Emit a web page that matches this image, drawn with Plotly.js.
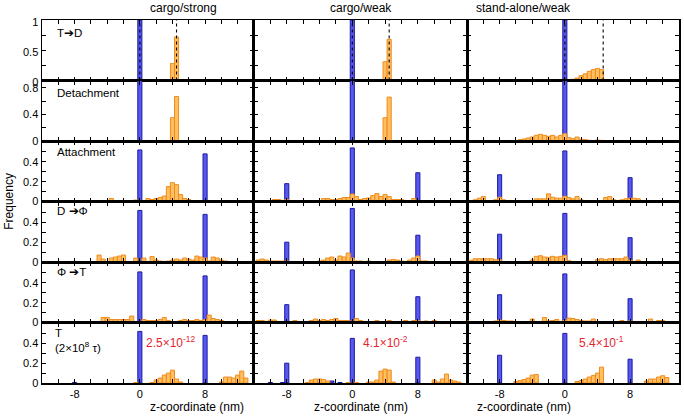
<!DOCTYPE html>
<html><head><meta charset="utf-8">
<script src="https://cdn.plot.ly/plotly-3.0.1.min.js"></script>
<style>html,body{margin:0;padding:0;background:#fff}#chart{width:684px;height:417px}</style>
</head><body><div id="chart"></div>
<script>
// ---------- labels ----------
const columnTitles = ['cargo/strong', 'cargo/weak', 'stand-alone/weak'];
const rowLabels = ['T\u2794D', 'Detachment', 'Attachment', 'D \u2794\u03A6', '\u03A6 \u2794T', 'T<br>(2\u00D710<sup>8</sup> \u03C4)'];
const xTickVals = [-12, -10, -8, -6, -4, -2, 0, 2, 4, 6, 8, 10, 12, 14];
const xTickText = ['', '', '-8', '', '', '', '0', '', '', '', '8', '', '', ''];
const rateLabels = ['2.5\u00D710<sup>-12</sup>', '4.1\u00D710<sup>-2</sup>', '5.4\u00D710<sup>-1</sup>'];
const rateX = [3.7, 4.1, 4.5];
const rateY = [0.41, 0.41, 0.41];
const tdMarkerX = [4.5, 4.5, 4.7];

// ---------- cargo/strong ----------
const cs_td_bx = [0], cs_td_by = [1];
const cs_td_ox = [4, 4.5], cs_td_oy = [0.28, 0.72];
const cs_det_bx = [0], cs_det_by = [1];
const cs_det_ox = [4, 4.5], cs_det_oy = [0.35, 0.67];
const cs_att_bx = [-8, 0, 8], cs_att_by = [0.006, 0.52, 0.48];
const cs_att_ox = [-9,-5.5,-3.5,-2.5,-1,-0.5,0.5,1,1.5,2,2.5,3,3.5,4,4.5,5,5.5,6,6.5,7,7.5,8.5,9,10];
const cs_att_oy = [0.005,0.005,0.03,0.005,0.01,0.015,0.01,0.03,0.02,0.03,0.04,0.055,0.15,0.19,0.17,0.07,0.03,0.02,0.01,0.01,0.01,0.01,0.01,0.005];
const cs_dphi_bx = [-8, 0, 8], cs_dphi_by = [0.006, 0.52, 0.48];
const cs_dphi_ox = [-10.5,-5,-4.5,-3.5,-3,-2.5,-2,-0.5,0.5,1.5,2,2.5,3.5,4,4.5,5,5.5,6,6.5,7,7.5,8,8.5,9,9.5,10,10.5];
const cs_dphi_oy = [0.005,0.07,0.03,0.04,0.05,0.06,0.07,0.04,0.04,0.055,0.02,0.01,0.01,0.02,0.03,0.02,0.04,0.03,0.02,0.06,0.05,0.04,0.01,0.05,0.04,0.02,0.01];
const cs_phit_bx = [-8, 0, 8], cs_phit_by = [0.006, 0.51, 0.47];
const cs_phit_ox = [-5,-4.5,-4,-3.5,-3,-2.5,-2,-1.5,-1,-0.5,0.5,1,1.5,2,2.5,3,3.5,4.5,5,5.5,6,6.5,7,7.5,8,8.5,9,9.5,10,10.5,11,11.5];
const cs_phit_oy = [0.01,0.05,0.05,0.03,0.03,0.03,0.03,0.03,0.065,0.01,0.03,0.02,0.02,0.02,0.03,0.05,0.02,0.01,0.02,0.03,0.02,0.02,0.03,0.02,0.03,0.075,0.04,0.03,0.02,0.01,0.005,0.005];
const cs_t_bx = [-8, 0, 8], cs_t_by = [0.006, 0.52, 0.48];
const cs_t_ox = [-0.5,1.5,2,2.5,3,3.5,4,4.5,5,10,10.5,11,11.5,12,12.5,13];
const cs_t_oy = [0.005,0.005,0.03,0.05,0.08,0.1,0.13,0.04,0.01,0.01,0.06,0.06,0.05,0.08,0.12,0.05];

// ---------- cargo/weak ----------
const cw_td_bx = [0], cw_td_by = [1];
const cw_td_ox = [4, 4.5], cw_td_oy = [0.31, 0.68];
const cw_det_bx = [0], cw_det_by = [1];
const cw_det_ox = [4, 4.5], cw_det_oy = [0.35, 0.66];
const cw_att_bx = [-8, -5.5, 0, 8], cw_att_by = [0.18, 0.01, 0.54, 0.29];
const cw_att_ox = [-11.5,-11,-10,-9.5,-9,-8,-7,-6.5,-5,-4,-3.5,-3,-2.5,-2,-1.5,-1,-0.5,0,0.5,1,1.5,2,2.5,3,3.5,4,4.5,5,5.5,6,6.5,7,7.5];
const cw_att_oy = [0.005,0.005,0.01,0.02,0.02,0.02,0.005,0.005,0.005,0.005,0.03,0.03,0.02,0.02,0.03,0.04,0.04,0.075,0.05,0.02,0.03,0.035,0.06,0.08,0.05,0.07,0.05,0.02,0.02,0.02,0.01,0.01,0.03];
const cw_dphi_bx = [-8, -5.5, 0, 8], cw_dphi_by = [0.2, 0.005, 0.54, 0.27];
const cw_dphi_ox = [-11.5,-11,-10.5,-10,-9.5,-9,-8.5,-8,-7,-6.5,-4,-3.5,-3,-2.5,-2,-1.5,-1,-0.5,0,0.5,1,2,3,4.5,5,5.5,6,6.5,7,7.5,8,8.5,9,9.5];
const cw_dphi_oy = [0.02,0.03,0.02,0.01,0.01,0.01,0.01,0.01,0.005,0.005,0.01,0.02,0.04,0.05,0.02,0.06,0.05,0.09,0.04,0.01,0.01,0.01,0.005,0.02,0.025,0.02,0.01,0.005,0.02,0.04,0.06,0.01,0.01,0.005];
const cw_phit_bx = [-8, 0, 8], cw_phit_by = [0.18, 0.53, 0.26];
const cw_phit_ox = [-11.5,-11,-10,-9.5,-9,-7,-5,-4.5,-4,-3.5,-3,-2.5,-2,-1.5,-1,-0.5,0.5,1,1.5,3,4.5,5,6.5,7.5,8,9,10,10.5];
const cw_phit_oy = [0.02,0.02,0.025,0.025,0.01,0.02,0.02,0.035,0.02,0.03,0.02,0.03,0.04,0.02,0.02,0.02,0.04,0.02,0.01,0.02,0.02,0.01,0.02,0.02,0.02,0.015,0.02,0.005];
const cw_t_bx = [-10, -8.5, -8, -2.5, -1.5, 0, 8], cw_t_by = [0.005, 0.005, 0.2, 0.02, 0.005, 0.45, 0.26];
const cw_t_ox = [-5.5,-5,-4.5,-4,-3.5,-3,-0.5,0.5,2,2.5,3,3.5,4,4.5,5,10,10.5,11,11.5,12,12.5,13];
const cw_t_oy = [0.005,0.03,0.04,0.04,0.035,0.02,0.005,0.005,0.01,0.01,0.03,0.12,0.14,0.13,0.01,0.03,0.01,0.04,0.09,0.03,0.02,0.01];

// ---------- stand-alone/weak ----------
const sw_td_bx = [0], sw_td_by = [1];
const sw_td_ox = [1,1.5,2,2.5,3,3.5,4,4.5,5], sw_td_oy = [0.02,0.04,0.08,0.11,0.15,0.18,0.2,0.18,0.01];
const sw_det_bx = [0], sw_det_by = [1];
const sw_det_ox = [-5.5,-5,-4.5,-4,-3.5,-3,-2.5,-2,-1.5,-1,-0.5,0,0.5,1,1.5,2,2.5,3,3.5,4,4.5];
const sw_det_oy = [0.02,0.03,0.045,0.06,0.085,0.1,0.085,0.07,0.085,0.06,0.085,0.11,0.05,0.035,0.06,0.025,0.02,0.01,0.005,0.015,0.01];
const sw_att_bx = [-8, 0, 8], sw_att_by = [0.27, 0.51, 0.24];
const sw_att_ox = [-11,-10.5,-10,-9.5,-8.5,-8,-7.5,-7,-6.5,-6,-5,-4.5,-4,-3.5,-3,-2.5,-2,-1.5,-1,-0.5,0,0.5,1,1.5,2,2.5,3,4,4.5,5,5.5,6,6.5,7,7.5,8,8.5,9,9.5,10.5,11.5];
const sw_att_oy = [0.017,0.033,0.05,0.01,0.017,0.043,0.017,0.01,0.01,0.005,0.005,0.005,0.01,0.027,0.027,0.027,0.077,0.043,0.033,0.033,0.053,0.04,0.027,0.05,0.017,0.01,0.01,0.01,0.01,0.04,0.05,0.017,0.01,0.017,0.027,0.033,0.033,0.027,0.01,0.005,0.005];
const sw_dphi_bx = [-8, 0, 8], sw_dphi_by = [0.28, 0.49, 0.245];
const sw_dphi_ox = [-12,-11.5,-11,-10.5,-10,-9.5,-9,-8.5,-8,-6.5,-5.5,-5,-4.5,-4,-3.5,-3,-2.5,-2,-1.5,-1,-0.5,0,0.5,1,2,3.5,4,4.5,5,5.5,6,6.5,7,7.5,8,8.5,9,10];
const sw_dphi_oy = [0.005,0.017,0.033,0.033,0.033,0.033,0.033,0.023,0.023,0.005,0.005,0.005,0.005,0.02,0.057,0.063,0.05,0.047,0.057,0.05,0.057,0.067,0.013,0.005,0.005,0.005,0.023,0.033,0.023,0.033,0.033,0.033,0.033,0.05,0.017,0.005,0.02,0.005];
const sw_phit_bx = [-8, 0, 8], sw_phit_by = [0.28, 0.49, 0.24];
const sw_phit_ox = [-12,-11.5,-11,-10.5,-8.5,-8,-7.5,-7,-6.5,-5.5,-5,-4.5,-4,-3.5,-3,-2.5,-2,-1.5,-1,-0.5,0,0.5,1,1.5,2,2.5,3,3.5,4,5,7,7.5,8,8.5,9,10.5,11,11.5,12];
const sw_phit_oy = [0.015,0.01,0.01,0.01,0.015,0.025,0.02,0.015,0.015,0.01,0.01,0.01,0.035,0.01,0.01,0.05,0.015,0.02,0.03,0.01,0.02,0.045,0.04,0.03,0.02,0.015,0.015,0.035,0.005,0.005,0.02,0.01,0.015,0.01,0.01,0.035,0.005,0.02,0.02];
const sw_t_bx = [-8, 0, 8], sw_t_by = [0.28, 0.5, 0.24];
const sw_t_ox = [-6,-5.5,-5,-4.5,-4,-3.5,1.5,2,2.5,3,3.5,4,4.5,10,10.5,11,11.5,12,12.5];
const sw_t_oy = [0.015,0.025,0.035,0.05,0.08,0.085,0.015,0.025,0.04,0.06,0.075,0.1,0.16,0.02,0.04,0.04,0.06,0.073,0.055];

// panels[row][col] = [blueX, blueY, orangeX, orangeY]
const panels = [
  [[cs_td_bx, cs_td_by, cs_td_ox, cs_td_oy], [cw_td_bx, cw_td_by, cw_td_ox, cw_td_oy], [sw_td_bx, sw_td_by, sw_td_ox, sw_td_oy]],
  [[cs_det_bx, cs_det_by, cs_det_ox, cs_det_oy], [cw_det_bx, cw_det_by, cw_det_ox, cw_det_oy], [sw_det_bx, sw_det_by, sw_det_ox, sw_det_oy]],
  [[cs_att_bx, cs_att_by, cs_att_ox, cs_att_oy], [cw_att_bx, cw_att_by, cw_att_ox, cw_att_oy], [sw_att_bx, sw_att_by, sw_att_ox, sw_att_oy]],
  [[cs_dphi_bx, cs_dphi_by, cs_dphi_ox, cs_dphi_oy], [cw_dphi_bx, cw_dphi_by, cw_dphi_ox, cw_dphi_oy], [sw_dphi_bx, sw_dphi_by, sw_dphi_ox, sw_dphi_oy]],
  [[cs_phit_bx, cs_phit_by, cs_phit_ox, cs_phit_oy], [cw_phit_bx, cw_phit_by, cw_phit_ox, cw_phit_oy], [sw_phit_bx, sw_phit_by, sw_phit_ox, sw_phit_oy]],
  [[cs_t_bx, cs_t_by, cs_t_ox, cs_t_oy], [cw_t_bx, cw_t_by, cw_t_ox, cw_t_oy], [sw_t_bx, sw_t_by, sw_t_ox, sw_t_oy]]
];

// y axis settings per row
const yRanges = [[0, 1], [0, 0.91], [0, 0.61], [0, 0.61], [0, 0.61], [0, 0.61]];
const yTickVals = [[0, 0.25, 0.5, 0.75, 1], [0, 0.2, 0.4, 0.6, 0.8], [0, 0.1, 0.2, 0.3, 0.4, 0.5, 0.6], [0, 0.1, 0.2, 0.3, 0.4, 0.5, 0.6], [0, 0.1, 0.2, 0.3, 0.4, 0.5, 0.6], [0, 0.1, 0.2, 0.3, 0.4, 0.5, 0.6]];
const yTickText = [['0', '', '0.5', '', '1'], ['0', '', '0.4', '', '0.8'], ['0', '', '0.2', '', '0.4', '', ''], ['0', '', '0.2', '', '0.4', '', ''], ['0', '', '0.2', '', '0.4', '', ''], ['0', '', '0.2', '', '0.4', '', '']];

const colDomains = [[0, 0.3328], [0.3328, 0.6672], [0.6672, 1]];
const FONT = 'Liberation Sans, Arial, sans-serif';
const BLUE_FILL = 'rgb(88,88,240)', BLUE_LINE = 'rgb(25,25,165)';
const OR_FILL = 'rgb(255,190,95)', OR_LINE = 'rgb(238,140,30)';

const traces = [];
const layout = {
  width: 684, height: 417,
  margin: {l: 42, r: 5, t: 20, b: 34, pad: 0},
  paper_bgcolor: '#fff', plot_bgcolor: '#fff',
  showlegend: false, barmode: 'overlay', bargap: 0,
  font: {family: FONT, size: 11, color: '#000'},
  annotations: [], shapes: []
};

for (let r = 0; r < 6; r++) {
  for (let c = 0; c < 3; c++) {
    const n = r * 3 + c + 1;
    const xa = 'x' + (n === 1 ? '' : n), ya = 'y' + (n === 1 ? '' : n);
    const [bx, by, ox, oy] = panels[r][c];
    traces.push({type: 'bar', x: bx, y: by, width: 0.5, xaxis: xa, yaxis: ya,
      marker: {color: BLUE_FILL, line: {color: BLUE_LINE, width: 1}}, hoverinfo: 'skip'});
    traces.push({type: 'bar', x: ox, y: oy, width: 0.5, xaxis: xa, yaxis: ya,
      marker: {color: OR_FILL, line: {color: OR_LINE, width: 1}}, hoverinfo: 'skip'});
    const yd = [1 - (r + 1) / 6, 1 - r / 6];
    layout['xaxis' + (n === 1 ? '' : n)] = {
      domain: colDomains[c], anchor: ya, range: [-12, 14],
      tickmode: 'array', tickvals: xTickVals, ticktext: xTickText,
      showticklabels: r === 5, ticks: 'inside', ticklen: 4, tickwidth: 1, tickcolor: '#000',
      showline: true, linecolor: '#000', linewidth: 1.5, mirror: 'ticks',
      showgrid: false, zeroline: false, fixedrange: true,
      tickfont: {family: FONT, size: 11, color: '#000'}
    };
    layout['yaxis' + (n === 1 ? '' : n)] = {
      domain: yd, anchor: xa, range: yRanges[r],
      tickmode: 'array', tickvals: yTickVals[r], ticktext: yTickText[r],
      showticklabels: c === 0, ticks: 'inside', ticklen: 4, tickwidth: 1, tickcolor: '#000',
      ticklabelshift: r === 0 ? 2 : 0,
      showline: true, linecolor: '#000', linewidth: 1.5, mirror: 'ticks',
      showgrid: false, zeroline: false, fixedrange: true,
      tickfont: {family: FONT, size: 11, color: '#000'}
    };
    if (r === 0) {
      [0, tdMarkerX[c]].forEach(xv => layout.shapes.push({
        type: 'line', xref: xa, yref: ya + ' domain', x0: xv, x1: xv, y0: 0, y1: 1,
        line: {color: '#000', width: 1.1, dash: 'dot'}
      }));
    }
    if (r === 5) {
      layout.annotations.push({xref: xa, yref: ya, x: rateX[c], y: rateY[c], text: rateLabels[c],
        showarrow: false, font: {family: FONT, size: 12, color: '#e3262e'}});
    }
    if (c === 0) {
      const yPos = [0.78, 0.8, 0.82, 0.84, 0.83, 0.96][r];
      layout.annotations.push({xref: xa + ' domain', yref: ya + ' domain', x: r === 5 ? 0.05 : 0.06, y: yPos,
        xanchor: 'left', yanchor: r === 5 ? 'top' : 'middle', align: 'left', text: rowLabels[r],
        showarrow: false, font: {family: FONT, size: 11.5, color: '#000'}});
    }
  }
}

columnTitles.forEach((t, c) => {
  const xc = (colDomains[c][0] + colDomains[c][1]) / 2;
  layout.annotations.push({xref: 'paper', yref: 'paper', x: xc, y: 1.033, yanchor: 'middle',
    text: t, showarrow: false, font: {family: FONT, size: 12, color: '#000'}});
  layout.annotations.push({xref: 'paper', yref: 'paper', x: xc, y: -0.066, yanchor: 'middle',
    text: 'z-coordinate (nm)', showarrow: false, font: {family: FONT, size: 12, color: '#000'}});
});
layout.annotations.push({xref: 'paper', yref: 'paper', x: -0.053, y: 0.5, xanchor: 'center', yanchor: 'middle',
  textangle: -90, text: 'Frequency', showarrow: false, font: {family: FONT, size: 12, color: '#000'}});

Plotly.newPlot('chart', traces, layout, {staticPlot: true, displayModeBar: false});
</script></body></html>
